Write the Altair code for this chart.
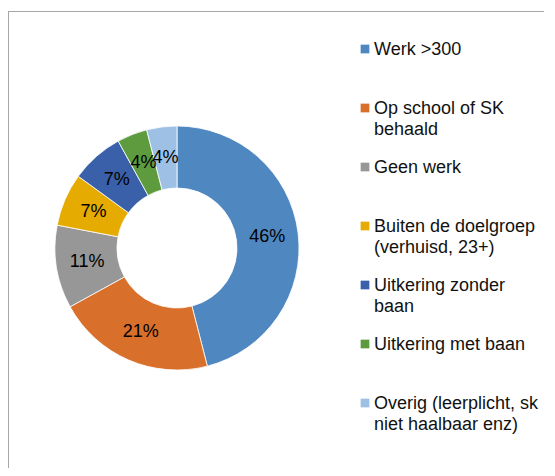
import altair as alt
import pandas as pd

categories = [
    "Werk >300",
    "Op school of SK\nbehaald",
    "Geen werk",
    "Buiten de doelgroep\n(verhuisd, 23+)",
    "Uitkering zonder\nbaan",
    "Uitkering met baan",
    "Overig (leerplicht, sk\nniet haalbaar enz)",
]
values = [46, 21, 11, 7, 7, 4, 4]
colors = ["#4F88C0", "#D86F2B", "#979797", "#E6AB00", "#3B60AA", "#5E9B3E", "#9DC0E4"]

df = pd.DataFrame({
    "cat": categories,
    "value": values,
    "idx": list(range(len(categories))),
})
df["pct"] = [f"{v}%" for v in values]

color = alt.Color("cat:N", scale=alt.Scale(domain=categories, range=colors), legend=None)

cx, cy = 169, 240

arcs = alt.Chart(df).mark_arc(innerRadius=60, outerRadius=122, stroke="white", strokeWidth=0.8).encode(
    theta=alt.Theta("value:Q", stack=True),
    order=alt.Order("idx:Q"),
    color=color,
    x=alt.value(cx),
    y=alt.value(cy),
)

labels = alt.Chart(df).mark_text(radius=91, font="Liberation Sans", fontSize=18, color="black").encode(
    theta=alt.Theta("value:Q", stack=True),
    order=alt.Order("idx:Q"),
    text="pct:N",
    x=alt.value(cx),
    y=alt.value(cy),
)

ysc = alt.Scale(type="point", domain=categories, range=[41, 395], padding=0)

leg_sym = alt.Chart(df).mark_point(shape="square", filled=True, size=76, opacity=1).encode(
    y=alt.Y("cat:N", scale=ysc, axis=None),
    x=alt.value(357),
    color=color,
)

leg_txt = alt.Chart(df).transform_calculate(
    lines="split(datum.cat, '\\n')"
).mark_text(
    align="left", baseline="top", dy=-8, font="Liberation Sans", fontSize=18,
    lineHeight=21, color="#111111"
).encode(
    y=alt.Y("cat:N", scale=ysc, axis=None),
    x=alt.value(366),
    text="lines:N",
)

frame_top = alt.Chart(df).mark_rule(color="#a6a6a6", strokeWidth=1).encode(
    x=alt.value(0), x2=alt.value(560), y=alt.value(3.5)
)
frame_left = alt.Chart(df).mark_rule(color="#a6a6a6", strokeWidth=1).encode(
    x=alt.value(0.5), y=alt.value(3), y2=alt.value(470)
)

chart = alt.layer(frame_top, frame_left, arcs, labels, leg_sym, leg_txt).properties(
    width=536, height=460, padding=0, autosize=alt.AutoSizeParams(type="none")
).configure_view(stroke="transparent")

chart.save("out.html", embed_options={"renderer": "svg", "actions": False})
